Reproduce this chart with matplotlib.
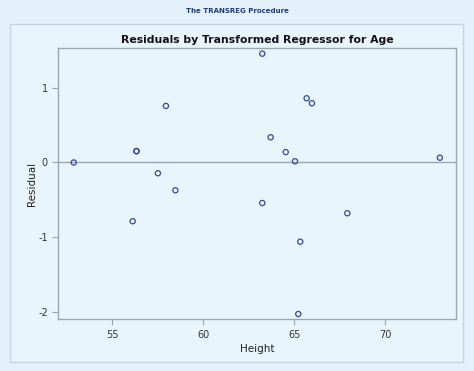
import matplotlib
matplotlib.use("Agg")
import matplotlib.pyplot as plt
import matplotlib.patches as mpatches

plt.rcParams["axes.unicode_minus"] = False

height = [52.88, 56.33, 56.33, 57.95, 57.51, 58.47, 56.12, 63.25, 63.71,
          64.54, 65.05, 65.69, 65.98, 63.25, 65.34, 65.23, 67.93, 73.02]
residual = [0.00, 0.154, 0.150, 0.756, -0.144, -0.372, -0.786, 1.455, 0.337,
            0.139, 0.016, 0.859, 0.792, -0.542, -1.059, -2.026, -0.679, 0.064]
xticks = [55, 60, 65, 70]
yticks = [-2, -1, 0, 1]

W, H = 474, 371
fig = plt.figure(figsize=(W / 100, H / 100), dpi=100)
fig.patch.set_facecolor("#e4f1fb")

# inner panel
panel = mpatches.Rectangle((10 / W, 1 - 362 / H), (463 - 10) / W, (362 - 24) / H,
                           transform=fig.transFigure, facecolor="#e9f5fd",
                           edgecolor="#c5d3de", linewidth=1.0, zorder=-10)
fig.patches.append(panel)

fig.text(237 / W, 1 - 11 / H, "The TRANSREG Procedure", ha="center", va="center",
         fontsize=5, color="#1f3a78", fontweight="bold", family="DejaVu Sans")

left, right, top, bottom = 58.3, 455.7, 48.3, 319.3
ax = fig.add_axes([left / W, 1 - bottom / H, (right - left) / W, (bottom - top) / H])
ax.set_zorder(5)
ax.set_facecolor("#e8f5fd")
ax.set_xlim(52.03, 73.89)
ax.set_ylim(-2.097, 1.527)

ax.axhline(0, color="#9aa6b0", linewidth=1.0, zorder=1)
ax.scatter(height, residual, s=14, facecolors="none", edgecolors="#34499a",
           linewidths=0.9, zorder=3)

ax.set_xticks(xticks)
ax.set_yticks(yticks)
ax.tick_params(axis="both", labelsize=7, colors="#333333", length=4,
               width=0.8, color="#9aa6b0")
for s in ax.spines.values():
    s.set_color("#9aa6b0")
    s.set_linewidth(1.0)

ax.set_xlabel("Height", fontsize=7.5, color="#222222", labelpad=3)
ax.set_ylabel("Residual", fontsize=7.5, color="#222222", labelpad=1)
ax.set_title("Residuals by Transformed Regressor for Age", fontsize=7.8,
             fontweight="bold", color="#111111", pad=4)

fig.savefig("out.png", dpi=100, facecolor=fig.get_facecolor())
